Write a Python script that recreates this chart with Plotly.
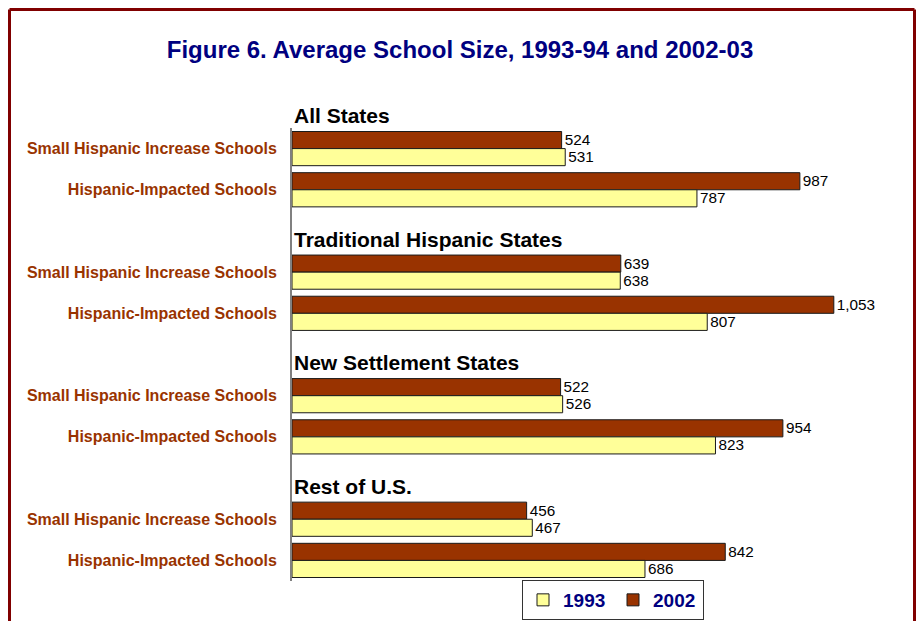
import plotly.graph_objects as go


GROUPS = ["All States", "Traditional Hispanic States", "New Settlement States", "Rest of U.S."]
SCHOOL_TYPES = ["Small Hispanic Increase Schools", "Hispanic-Impacted Schools"]

# values per group, in the order of SCHOOL_TYPES
SIZE_1993 = [[531, 787], [638, 807], [526, 823], [467, 686]]
SIZE_2002 = [[524, 987], [639, 1053], [522, 954], [456, 842]]

TITLE = "Figure 6. Average School Size, 1993-94 and 2002-03"

# the page body has an 8px margin all round, so the figure is a little smaller
PAGE_OFFSET = 8
WIDTH, HEIGHT = 924 - 2 * PAGE_OFFSET, 629 - 2 * PAGE_OFFSET
PLOT_LEFT, PLOT_RIGHT, PLOT_TOP, PLOT_BOTTOM = 292, 858, 128, 581
MARGIN = dict(
    l=PLOT_LEFT - PAGE_OFFSET,
    r=WIDTH + PAGE_OFFSET - PLOT_RIGHT,
    t=PLOT_TOP - PAGE_OFFSET,
    b=HEIGHT + PAGE_OFFSET - PLOT_BOTTOM,
    autoexpand=False,
)
FONT = "Liberation Sans, Arial"

# one blank slot before each group for its header
positions = []
labels = []
values_1993 = []
values_2002 = []
header_slots = []
slot = -1
for g, group in enumerate(GROUPS):
    header_slots.append(slot)
    slot += 1
    for s, school in enumerate(SCHOOL_TYPES):
        positions.append(slot)
        labels.append(school)
        values_1993.append(SIZE_1993[g][s])
        values_2002.append(SIZE_2002[g][s])
        slot += 1
n_slots = positions[-1] + 1

fig = go.Figure()

for name, values, colour in [
    ("2002", values_2002, "#993300"),
    ("1993", values_1993, "#FFFF99"),
]:
    fig.add_trace(
        go.Bar(
            y=positions,
            x=values,
            orientation="h",
            name=f"<b>{name}</b>",
            marker=dict(color=colour, line=dict(color="#1a1a1a", width=1)),
            texttemplate="%{x:,}",
            textposition="outside",
            textfont=dict(family=FONT, size=17, color="#000000"),
            cliponaxis=False,
        )
    )

plot_w = PLOT_RIGHT - PLOT_LEFT
plot_h = PLOT_BOTTOM - PLOT_TOP


def px_x(px):
    return (px - PLOT_LEFT) / plot_w


def px_y(py):
    return (PLOT_BOTTOM - py) / plot_h


for group, hs in zip(GROUPS, header_slots):
    fig.add_annotation(
        x=0,
        y=(n_slots - 0.5 - (hs + 0.2)) / n_slots,
        xref="x",
        yref="paper",
        text=f"<b>{group}</b>",
        showarrow=False,
        xanchor="left",
        yanchor="middle",
        font=dict(family=FONT, size=21, color="#000000"),
    )

# dark red frame round the whole picture (open at the bottom)
frame = dict(type="line", xref="paper", yref="paper",
             line=dict(color="#800000", width=3), layer="below")
left, right, top, bottom = px_x(9.5), px_x(914.5), px_y(9.5), px_y(640)
fig.add_shape(x0=left, x1=right, y0=top, y1=top, **frame)
fig.add_shape(x0=left, x1=left, y0=top, y1=bottom, **frame)
fig.add_shape(x0=right, x1=right, y0=top, y1=bottom, **frame)

fig.update_layout(
    width=WIDTH,
    height=HEIGHT,
    margin=MARGIN,
    paper_bgcolor="#FFFFFF",
    plot_bgcolor="#FFFFFF",
    barmode="group",
    bargap=0.17,
    bargroupgap=0,
    title=dict(
        text=f"<b>{TITLE}</b>",
        x=(460 - PAGE_OFFSET) / WIDTH,
        xref="container",
        xanchor="center",
        y=1 - (50 - PAGE_OFFSET) / HEIGHT,
        yref="container",
        yanchor="middle",
        font=dict(family=FONT, size=24, color="#000080"),
    ),
    xaxis=dict(
        range=[0, 1100],
        showgrid=False,
        zeroline=False,
        showticklabels=False,
        showline=False,
    ),
    yaxis=dict(
        range=[n_slots - 0.5, -0.5],
        tickvals=positions,
        ticktext=[f"<b>{t}</b>" for t in labels],
        tickfont=dict(family=FONT, size=16, color="#993300"),
        ticklabelstandoff=10,
        showgrid=False,
        zeroline=False,
        showline=True,
        linecolor="#808080",
        linewidth=2,
    ),
    legend=dict(
        orientation="h",
        x=px_x(613),
        xanchor="center",
        y=px_y(620),
        yanchor="bottom",
        traceorder="reversed",
        bordercolor="#333333",
        borderwidth=1,
        bgcolor="#FFFFFF",
        font=dict(family=FONT, size=19, color="#000080"),
        itemwidth=30,
        entrywidth=45,
    ),
    showlegend=True,
)

fig.write_html("out.html")
